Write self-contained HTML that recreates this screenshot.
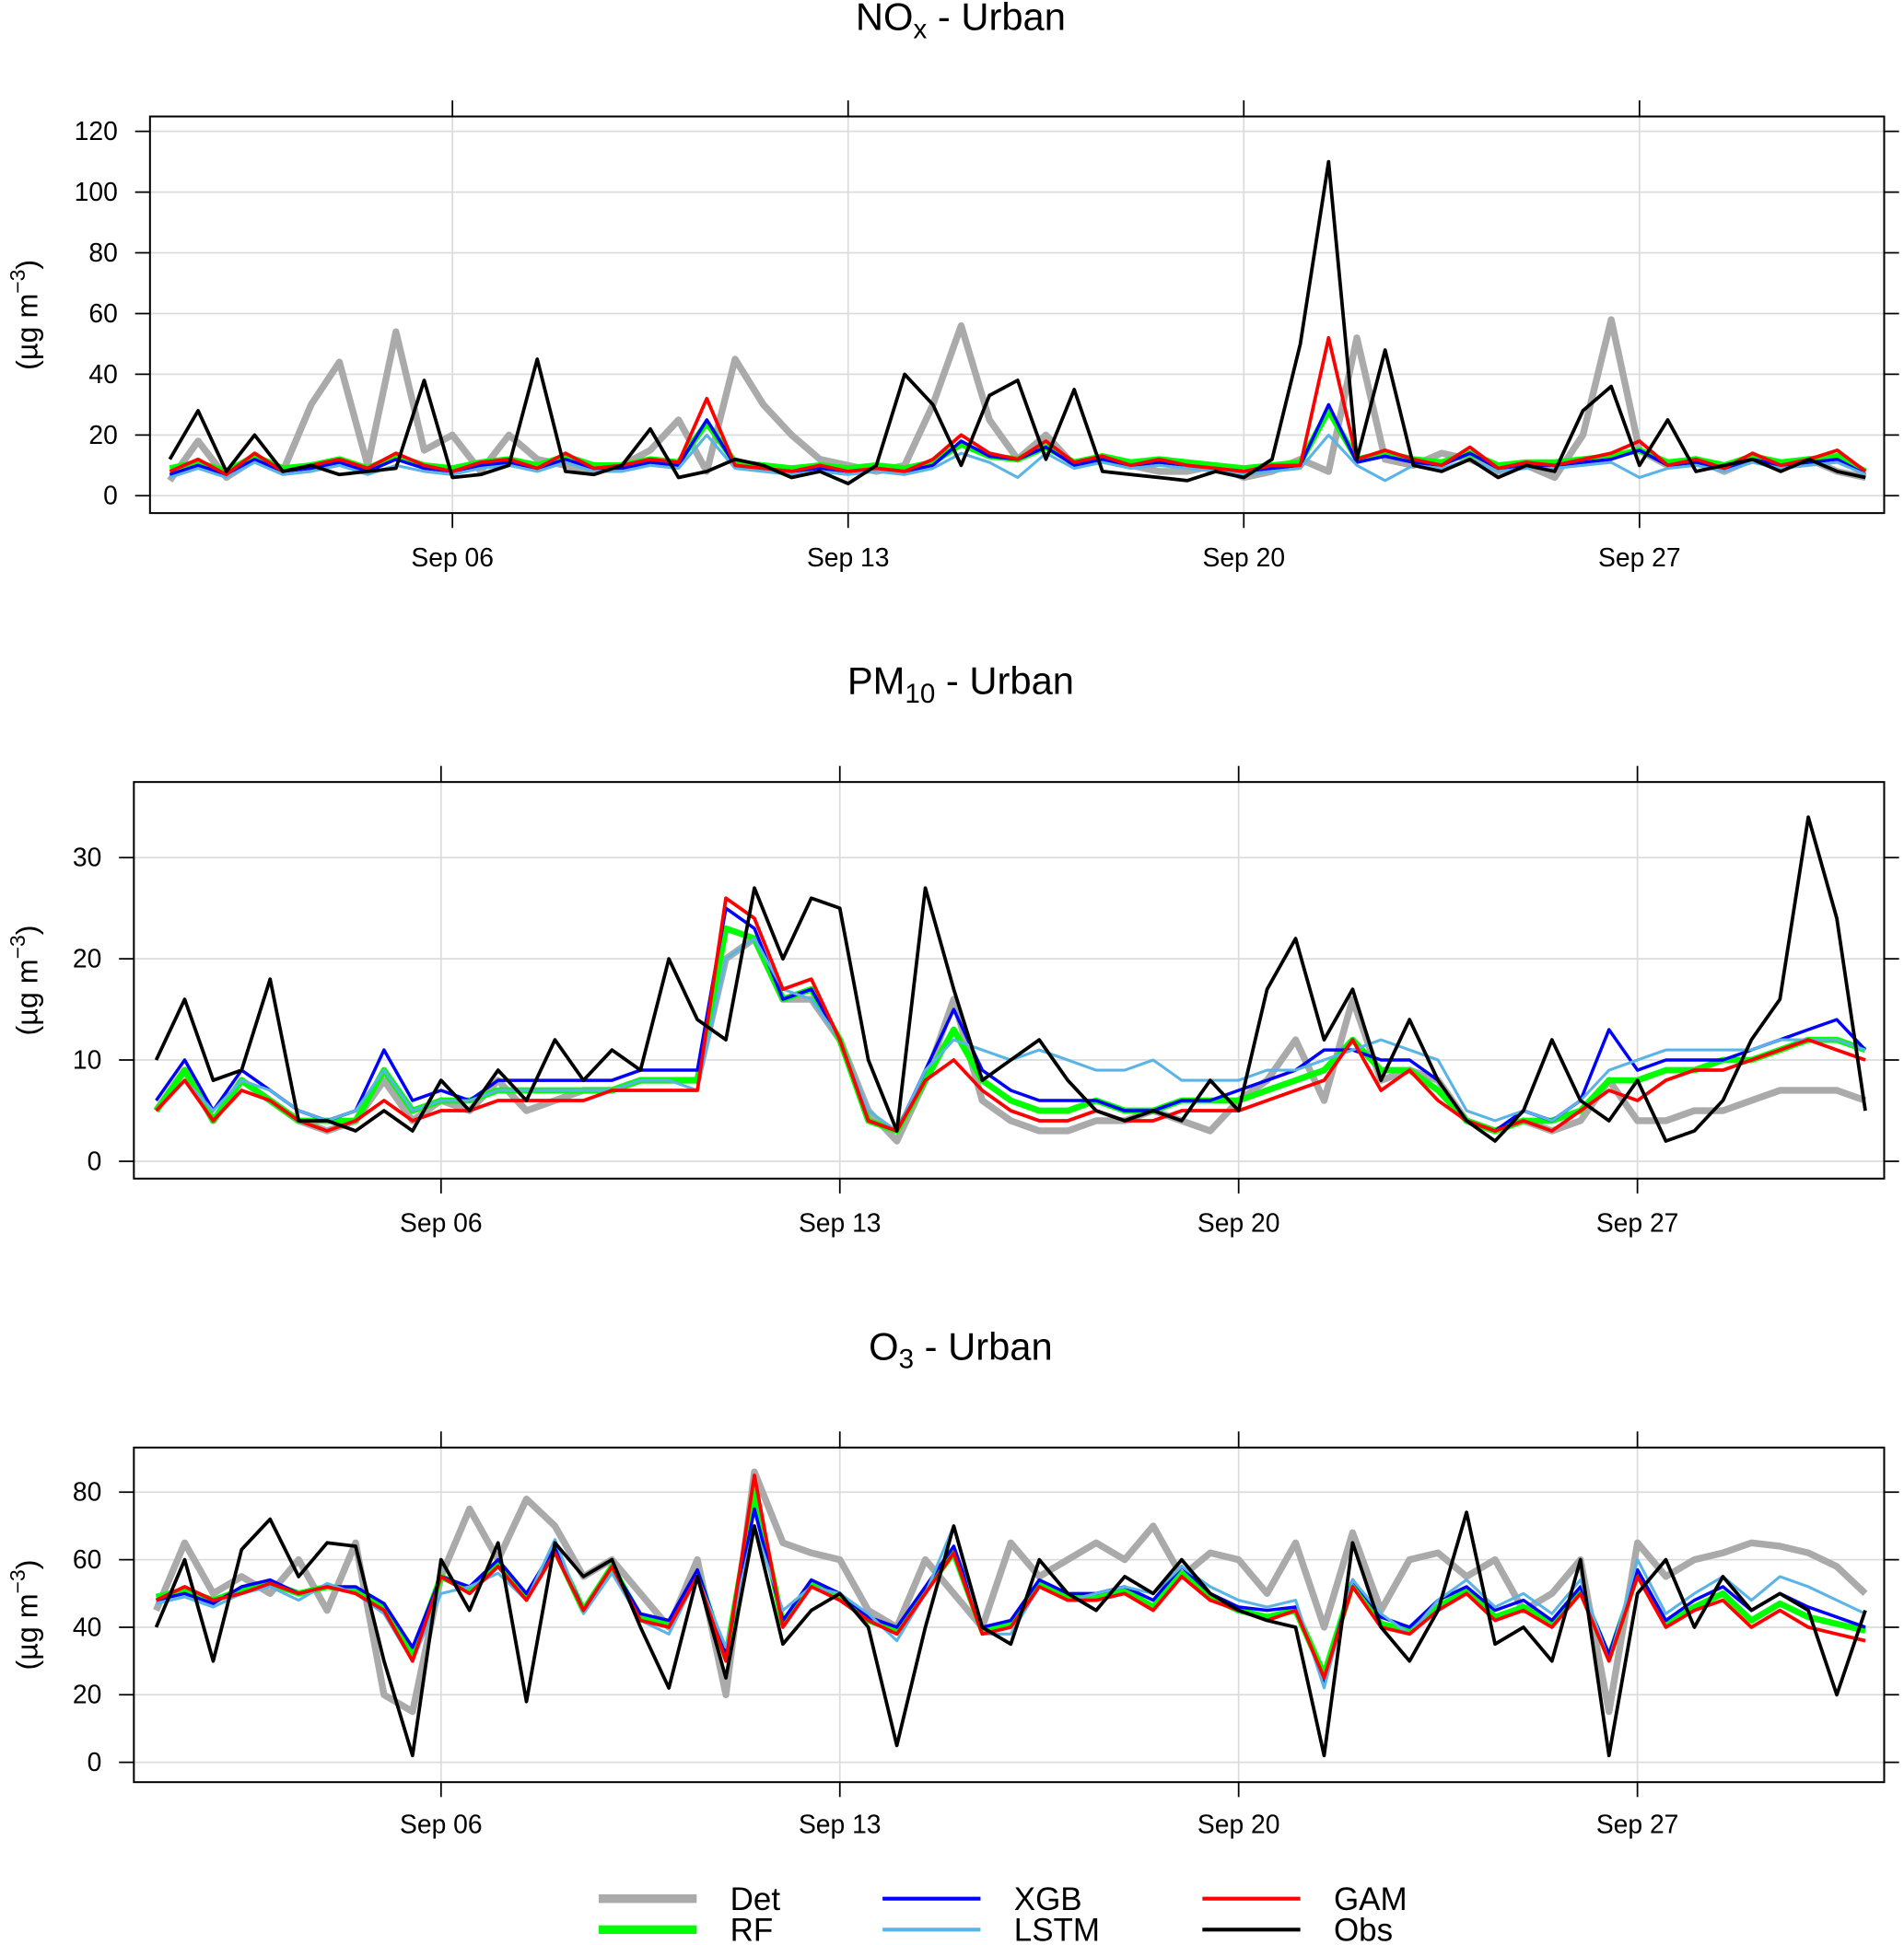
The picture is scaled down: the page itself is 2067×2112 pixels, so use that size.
<!DOCTYPE html>
<html><head><meta charset="utf-8"><style>
html,body{margin:0;padding:0;background:#fff;}
svg{display:block;font-family:"Liberation Sans",Arial,sans-serif;}
</style></head><body>
<svg id="chart" xmlns="http://www.w3.org/2000/svg" width="2067" height="2112" viewBox="0 0 1536 1569.4" preserveAspectRatio="none"></svg>
<script>
// ---- data (t = day offset from Sep 01, 0.5-day steps) ----
const dateTicks = ["Sep 06","Sep 13","Sep 20","Sep 27"];
const dateTickDays = [5,12,19,26];
const noxTicks = [0,20,40,60,80,100,120];
const pmTicks = [0,10,20,30];
const o3Ticks = [0,20,40,60,80];
const seriesNames = ["Det","RF","XGB","LSTM","GAM","Obs"];

const noxDet = [5,18,6,12,8,30,44,10,54,15, 20,8,20,12,10,8,10,15,25,8, 45,30,20,12,10,8,10,30,56,25, 12,20,10,12,10,8,8,10,6,8, 12,8,52,12,10,14,12,8,10,6, 20,58,15,10,12,8,12,10,12,8, 6];
const noxRF = [9,11,8,13,9,10,12,9,13,10, 9,11,12,10,13,10,10,12,11,24, 11,10,9,10,9,10,9,11,17,13, 12,16,11,13,11,12,11,10,9,10, 11,28,12,14,12,11,14,10,11,11, 12,13,15,11,12,10,13,11,12,13, 8];
const noxXGB = [7,10,7,12,8,9,11,8,12,9, 8,10,11,9,12,9,9,11,10,25, 10,9,8,9,8,9,8,10,18,13, 12,16,10,12,10,11,10,9,8,9, 10,30,11,13,11,10,14,9,10,10, 11,12,15,10,11,9,12,10,11,12, 7];
const noxLSTM = [6,9,6,11,7,8,10,7,10,8, 7,9,10,8,11,8,8,10,9,20, 9,8,7,8,7,8,7,9,14,11, 6,14,9,11,9,10,9,8,7,8, 9,20,10,5,10,9,12,8,9,9, 10,11,6,9,10,8,11,9,10,11, 7];
const noxGAM = [8,12,7,14,8,10,12,9,14,10, 8,11,12,9,14,9,10,12,11,32, 10,9,8,10,8,9,8,12,20,14, 12,18,11,13,10,12,10,9,8,10, 10,52,12,15,12,10,16,9,11,10, 12,14,18,10,12,9,14,10,12,15, 8];
const noxObs = [12,28,8,20,8,10,7,8,9,38, 6,7,10,45,8,7,10,22,6,8, 12,10,6,8,4,10,40,30,10,33, 38,12,35,8,7,6,5,8,6,12, 50,110,12,48,10,8,12,6,10,8, 28,36,10,25,8,10,12,8,12,8, 6];

const pmDet = [5,9,4,8,6,4,3,4,8,4, 6,5,8,5,6,7,7,8,8,8, 20,22,16,16,12,5,2,8,16,6, 4,3,3,4,4,5,4,3,6,8, 12,6,16,8,9,8,4,3,4,3, 4,8,4,4,5,5,6,7,7,7, 6];
const pmRF = [5,9,4,8,6,4,4,4,9,5, 6,6,7,7,7,7,7,8,8,8, 23,22,16,17,12,4,3,8,13,8, 6,5,5,6,5,5,6,6,6,7, 8,9,12,9,9,7,4,3,4,4, 5,8,8,9,9,10,10,11,12,12, 11];
const pmXGB = [6,10,5,9,7,5,4,5,11,6, 7,6,8,8,8,8,8,9,9,9, 25,23,16,17,12,4,3,9,15,9, 7,6,6,6,5,5,6,6,7,8, 9,11,11,10,10,8,4,3,5,4, 6,13,9,10,10,10,11,12,13,14, 11];
const pmLSTM = [5,8,5,8,7,5,4,5,9,5, 6,6,7,7,7,7,7,8,8,7, 20,22,17,16,12,5,3,9,12,11, 10,11,10,9,9,10,8,8,8,9, 9,10,11,12,11,10,5,4,5,4, 6,9,10,11,11,11,11,12,12,12, 11];
const pmGAM = [5,8,4,7,6,4,3,4,6,4, 5,5,6,6,6,6,7,7,7,7, 26,24,17,18,12,4,3,8,10,7, 5,4,4,5,4,4,5,5,5,6, 7,8,12,7,9,6,4,3,4,3, 5,7,6,8,9,9,10,11,12,11, 10];
const pmObs = [10,16,8,9,18,4,4,3,5,3, 8,5,9,6,12,8,11,9,20,14, 12,27,20,26,25,10,3,27,17,8, 10,12,8,5,4,5,4,8,5,17, 22,12,17,8,14,8,4,2,5,12, 6,4,8,2,3,6,12,16,34,24, 5];

const o3Det = [45,65,50,55,50,60,45,65,20,15, 55,75,60,78,70,55,60,50,40,60, 20,86,65,62,60,45,40,60,50,40, 65,55,60,65,60,70,55,62,60,50, 65,40,68,45,60,62,55,60,45,50, 60,15,65,55,60,62,65,64,62,58, 50];
const o3RF = [49,51,48,51,53,50,52,51,46,32, 55,51,59,49,63,45,58,43,41,56, 31,80,41,53,49,42,39,51,62,39, 41,53,49,49,51,46,56,49,45,43, 45,26,53,41,39,46,51,43,46,41, 51,31,56,41,46,50,42,47,43,41, 39];
const o3XGB = [48,50,47,52,54,50,52,52,47,34, 55,52,60,50,64,45,58,44,42,57, 32,75,42,54,50,43,40,52,64,40, 42,54,50,50,52,48,58,50,46,45, 46,24,54,43,40,48,52,45,48,42, 52,32,57,42,48,52,45,50,46,43, 40];
const o3LSTM = [47,49,46,50,52,48,53,50,44,30, 50,52,56,48,66,44,56,42,38,55, 34,70,45,52,50,44,36,50,70,38, 38,52,48,50,52,50,58,52,48,46, 48,22,54,44,38,48,54,46,50,44, 54,30,60,44,50,55,48,55,52,48, 44];
const o3GAM = [48,52,48,50,53,50,52,50,45,30, 55,50,58,48,62,45,58,42,40,55, 30,85,40,52,48,42,38,50,62,38, 40,52,48,48,50,45,55,48,45,42, 45,25,52,40,38,45,50,42,45,40, 50,30,55,40,45,48,40,45,40,38, 36];
const o3Obs = [40,60,30,63,72,55,65,64,30,2, 60,45,65,18,65,55,60,40,22,55, 25,70,35,45,50,40,5,40,70,40, 35,60,50,45,55,50,60,50,45,42, 40,2,65,40,30,45,74,35,40,30, 60,2,50,60,40,55,45,50,45,20, 45];

const styles = {
  Det:{c:"#aaaaaa",w:5.5}, RF:{c:"#00ff00",w:5}, XGB:{c:"#0000ff",w:2.6},
  LSTM:{c:"#5ab4e6",w:2.3}, GAM:{c:"#ff0000",w:2.8}, Obs:{c:"#000000",w:2.8}
};
const NS="http://www.w3.org/2000/svg";
const svg=document.getElementById('chart');
function mk(tag,attrs,parent){const e=document.createElementNS(NS,tag);for(const k in attrs)e.setAttribute(k,attrs[k]);(parent||svg).appendChild(e);return e;}

const panels=[
 {key:"nox",title:["NO","x"," - Urban"],x0:121,x1:1520,y0:94,y1:414,day0x:137,dayW:45.6,vmax:120,zeroY:400,topY:106,ticks:noxTicks,
  data:[noxDet,noxRF,noxXGB,noxLSTM,noxGAM,noxObs],titleY:24,labY:457},
 {key:"pm10",title:["PM","10"," - Urban"],x0:108,x1:1520,y0:631,y1:951,day0x:126,dayW:45.96,vmax:30,zeroY:937,topY:692,ticks:pmTicks,
  data:[pmDet,pmRF,pmXGB,pmLSTM,pmGAM,pmObs],titleY:560,labY:994},
 {key:"o3",title:["O","3"," - Urban"],x0:108,x1:1520,y0:1168,y1:1438,day0x:126,dayW:45.96,vmax:80,zeroY:1422,topY:1204,ticks:o3Ticks,
  data:[o3Det,o3RF,o3XGB,o3LSTM,o3GAM,o3Obs],titleY:1097,labY:1479}
];

panels.forEach(p=>{
  const g=mk('g',{});
  
  
  const xs=d=>p.day0x+d*p.dayW;
  const ys=v=>p.zeroY-(v/p.vmax)*(p.zeroY-p.topY);
  const t=mk('text',{x:775,y:p.titleY,'text-anchor':'middle','font-size':31},g);
  
  
  const s1=mk('tspan',{},t);s1.textContent=p.title[0];
  const s2=mk('tspan',{'font-size':22,dy:7},t);s2.textContent=p.title[1];
  const s3=mk('tspan',{dy:-7},t);s3.textContent=p.title[2];
  p.ticks.forEach(v=>{
    const gl=mk('line',{x1:p.x0,x2:p.x1,y1:ys(v),y2:ys(v),stroke:'#dcdcdc','stroke-width':1.3},g);
    
    
    mk('line',{x1:p.x0-12,x2:p.x0,y1:ys(v),y2:ys(v),stroke:'#000','stroke-width':1.3},g);
    mk('line',{x1:p.x1,x2:p.x1+12,y1:ys(v),y2:ys(v),stroke:'#000','stroke-width':1.3},g);
    const tl=mk('text',{x:p.x0-26,y:ys(v)+7,'text-anchor':'end','font-size':21},g);
    
    
    tl.textContent=v;
  });
  dateTickDays.forEach((d,i)=>{
    const gl=mk('line',{x1:xs(d),x2:xs(d),y1:p.y0,y2:p.y1,stroke:'#dcdcdc','stroke-width':1.3},g);
    
    
    mk('line',{x1:xs(d),x2:xs(d),y1:p.y0-13,y2:p.y0,stroke:'#000','stroke-width':1.3},g);
    mk('line',{x1:xs(d),x2:xs(d),y1:p.y1,y2:p.y1+12,stroke:'#000','stroke-width':1.3},g);
    const tl=mk('text',{x:xs(d),y:p.labY,'text-anchor':'middle','font-size':21},g);
    
    
    tl.textContent=dateTicks[i];
  });
  p.data.forEach((arr,si)=>{
    const name=seriesNames[si];
    const pts=arr.map((v,i)=>xs(i*0.5).toFixed(1)+','+ys(v).toFixed(1)).join(' ');
    const pl=mk('polyline',{points:pts,fill:'none',stroke:styles[name].c,'stroke-width':styles[name].w,'stroke-linejoin':'round'},g);
    
    
  });
  const bx=mk('rect',{x:p.x0,y:p.y0,width:p.x1-p.x0,height:p.y1-p.y0,fill:'none',stroke:'#000','stroke-width':1.5},g);
  
  
  const cy=(p.y0+p.y1)/2;
  const yt=mk('text',{x:0,y:0,'text-anchor':'middle','font-size':24,transform:`translate(30,${cy}) rotate(-90)`},g);
  
  
  const a=mk('tspan',{},yt);a.textContent='(µg m';
  const b=mk('tspan',{'font-size':17,dy:-10},yt);b.textContent='−3';
  const c=mk('tspan',{dy:10},yt);c.textContent=')';
});

const legend=[["Det",483,1532],["XGB",712,1532],["GAM",970,1532],["RF",483,1557],["LSTM",712,1557],["Obs",970,1557]];
legend.forEach(([n,x,y])=>{
  const lg=mk('g',{});
  
  
  mk('line',{x1:x,x2:x+79,y1:y,y2:y,stroke:styles[n].c,'stroke-width':n==='Det'||n==='RF'?7:3},lg);
  const tx=mk('text',{x:x+106,y:y+9,'font-size':26},lg);
  tx.textContent=n;
});
</script>
</body></html>
